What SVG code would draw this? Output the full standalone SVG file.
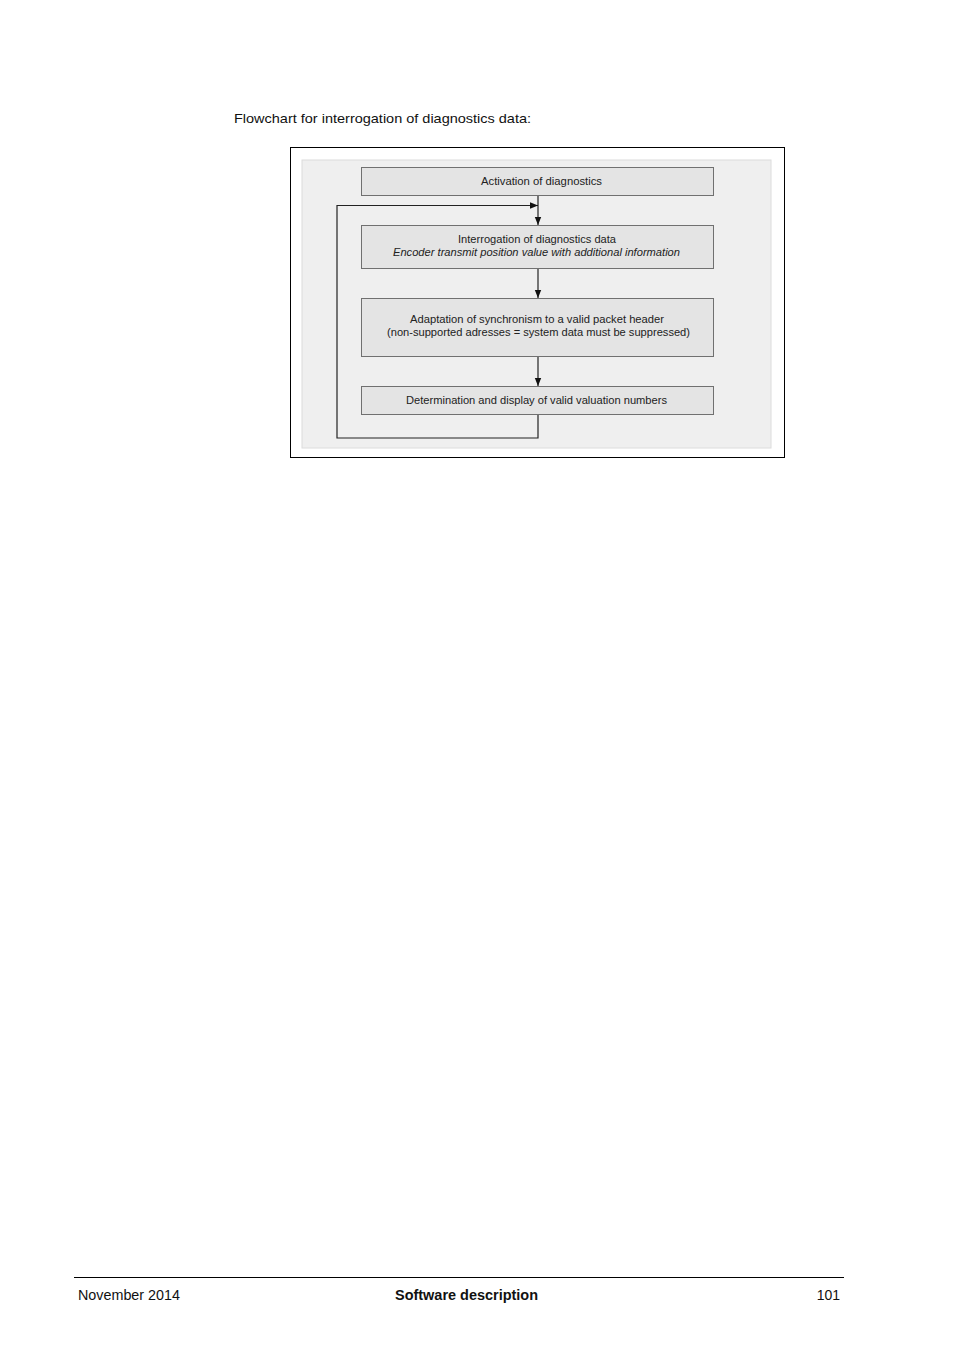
<svg xmlns="http://www.w3.org/2000/svg" width="954" height="1350" viewBox="0 0 954 1350">
<style>
.t{font-family:"Liberation Sans",Arial,sans-serif;font-size:11px;fill:#222}
.box{fill:#e4e4e4;stroke:#707070;stroke-width:1}
.ln{fill:none;stroke:#222;stroke-width:1.2}
.pg{font-family:"Liberation Sans",Arial,sans-serif;fill:#111}
</style>
<defs>
<marker id="ah" viewBox="0 0 10 10" refX="10" refY="5" markerWidth="8" markerHeight="8" markerUnits="userSpaceOnUse" orient="auto">
<path d="M0,1 L10,5 L0,9 Z" fill="#111"/>
</marker>
</defs>
<rect width="954" height="1350" fill="#fff"/>
<text class="pg" x="234" y="123" font-size="13" textLength="297" lengthAdjust="spacingAndGlyphs">Flowchart for interrogation of diagnostics data:</text>
<rect x="290.5" y="147.5" width="494" height="310" fill="#fff" stroke="#000" stroke-width="1"/>
<rect x="302" y="160" width="469" height="288" fill="#efefef" stroke="#dcdcdc" stroke-width="1"/>
<g id="connectors">
<line class="ln" x1="538" y1="196" x2="538" y2="225" marker-end="url(#ah)"/>
<line class="ln" x1="538" y1="269" x2="538" y2="298" marker-end="url(#ah)"/>
<line class="ln" x1="538" y1="357" x2="538" y2="386" marker-end="url(#ah)"/>
<polyline class="ln" points="538,414 538,438 337,438 337,205.5 538,205.5" marker-end="url(#ah)"/>
</g>
<g id="n1">
<rect class="box" x="361.5" y="167.5" width="352" height="28"/>
<text class="t" x="541.5" y="185" text-anchor="middle" textLength="121" lengthAdjust="spacingAndGlyphs">Activation of diagnostics</text>
</g>
<g id="n2">
<rect class="box" x="361.5" y="225.5" width="352" height="43"/>
<text class="t" x="537" y="243" text-anchor="middle" textLength="158" lengthAdjust="spacingAndGlyphs">Interrogation of diagnostics data</text>
<text class="t" x="536.5" y="256" text-anchor="middle" font-style="italic" textLength="287" lengthAdjust="spacingAndGlyphs">Encoder transmit position value with additional information</text>
</g>
<g id="n3">
<rect class="box" x="361.5" y="298.5" width="352" height="58"/>
<text class="t" x="537" y="323" text-anchor="middle" textLength="254" lengthAdjust="spacingAndGlyphs">Adaptation of synchronism to a valid packet header</text>
<text class="t" x="538.5" y="336" text-anchor="middle" textLength="303" lengthAdjust="spacingAndGlyphs">(non-supported adresses = system data must be suppressed)</text>
</g>
<g id="n4">
<rect class="box" x="361.5" y="386.5" width="352" height="28"/>
<text class="t" x="536.5" y="404" text-anchor="middle" textLength="261" lengthAdjust="spacingAndGlyphs">Determination and display of valid valuation numbers</text>
</g>
<line x1="74" y1="1277.5" x2="844" y2="1277.5" stroke="#000" stroke-width="1"/>
<text class="pg" x="78" y="1300" font-size="14" textLength="102" lengthAdjust="spacingAndGlyphs">November 2014</text>
<text class="pg" x="466.5" y="1300" font-size="14" font-weight="bold" text-anchor="middle" textLength="143" lengthAdjust="spacingAndGlyphs">Software description</text>
<text class="pg" x="840" y="1300" font-size="14" text-anchor="end">101</text>
</svg>
